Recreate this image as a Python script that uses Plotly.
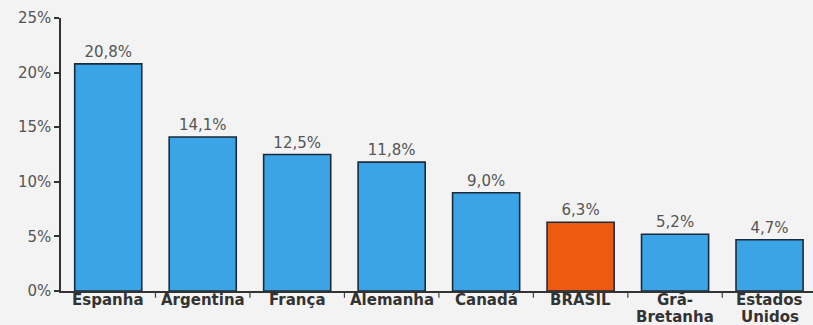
import plotly.graph_objects as go

# Participação por país (%)
paises = ["Espanha", "Argentina", "França", "Alemanha", "Canadá",
          "BRASIL", "Grã-<br>Bretanha", "Estados<br>Unidos"]
valores = [20.8, 14.1, 12.5, 11.8, 9.0, 6.3, 5.2, 4.7]
rotulos = ["20,8%", "14,1%", "12,5%", "11,8%", "9,0%", "6,3%", "5,2%", "4,7%"]
y_ticks = [0, 5, 10, 15, 20, 25]
y_tick_text = ["0%", "5%", "10%", "15%", "20%", "25%"]

AZUL = "#3aa4e6"
LARANJA = "#ee5a12"
cores = [LARANJA if p == "BRASIL" else AZUL for p in paises]
FONTE = "DejaVu Sans, Verdana, sans-serif"

fig = go.Figure()
fig.add_trace(go.Bar(
    x=list(range(len(paises))),
    y=valores,
    width=0.71,
    marker=dict(color=cores, line=dict(color="#1c2b3a", width=1.6)),
    text=rotulos,
    textposition="outside",
    textfont=dict(family=FONTE, size=15, color="#555555"),
    cliponaxis=False,
    hoverinfo="skip",
))

fig.update_layout(
    width=813, height=325,
    margin=dict(l=61, r=0, t=18, b=34),
    paper_bgcolor="#f3f3f3",
    plot_bgcolor="#f3f3f3",
    showlegend=False,
    xaxis=dict(
        range=[-0.5, 7.46],
        tickmode="array",
        tickvals=list(range(len(paises))),
        showticklabels=False,
        showline=True, linecolor="#333333", linewidth=1.5,
        showgrid=False, zeroline=False,
        ticks="", automargin=False,
    ),
    yaxis=dict(
        range=[0, 25],
        tickmode="array",
        tickvals=y_ticks,
        ticktext=y_tick_text,
        tickfont=dict(family=FONTE, size=15, color="#555555"),
        showline=True, linecolor="#333333", linewidth=1.5,
        ticks="outside", ticklen=5, tickcolor="#333333", tickwidth=1.5,
        showgrid=False, zeroline=False,
        automargin=False,
    ),
)

# Nomes dos países sob o eixo, com entrelinha compacta
for i, nome in enumerate(paises):
    for j, linha in enumerate(nome.split("<br>")):
        fig.add_annotation(
            x=i, xref="x", y=0, yref="paper",
            text=f"<b>{linha}</b>", showarrow=False,
            xanchor="center", yanchor="middle",
            yshift=-8.5 - 17.5 * j, borderpad=0,
            font=dict(family=FONTE, size=15, color="#333333"),
        )

# Marcas curtas entre as categorias, abaixo do eixo
for i in range(len(paises) - 1):
    fig.add_shape(type="line", xref="x", yref="paper",
                  x0=i + 0.5, x1=i + 0.5, y0=-0.005, y1=-0.025,
                  line=dict(color="#444444", width=1.2))

fig.write_html("out.html")
